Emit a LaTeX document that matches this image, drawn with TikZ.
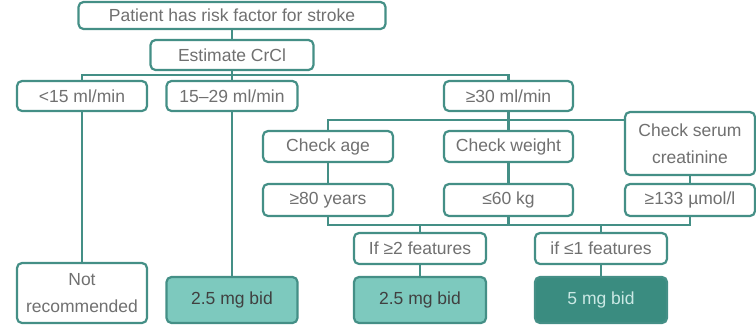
\documentclass[tikz,border=0pt]{standalone}
\usepackage{fontspec}
\setmainfont{Liberation Sans}
\usetikzlibrary{positioning, calc}

\definecolor{tealline}{HTML}{448F86}
\definecolor{teallight}{HTML}{7DC9BE}
\definecolor{tealdark}{HTML}{3A8C80}
\definecolor{txtgray}{HTML}{707070}

\begin{document}
\begin{tikzpicture}[x=1pt, y=-1pt,
    box/.style={draw=tealline, line width=2.2pt, rounded corners=5pt, fill=white,
                text=txtgray, inner sep=0pt, align=center,
                font=\fontsize{17.5}{27}\selectfont},
    link/.style={draw=tealline, line width=2.2pt},
    dose/.style={box, fill=teallight, text=black!75},
    dosehi/.style={box, fill=tealdark, text=teallight!40}]
  \useasboundingbox (0,0) rectangle (756,325);

  % Top of the tree
  \node[box, minimum width=307pt, minimum height=27pt] (risk) at (232,15.5) {Patient has risk factor for stroke};
  \node[box, minimum width=163pt, minimum height=30pt] (crcl) at (232,55) {Estimate CrCl};

  % CrCl bands
  \node[box, minimum width=130pt, minimum height=30pt] (lt15) at (82,96) {<15 ml/min};
  \node[box, minimum width=131pt, minimum height=30pt] (mid) at (232,96) {15--29 ml/min};
  \node[box, minimum width=129pt, minimum height=30pt] (ge30) at (508.5,96) {≥30 ml/min};

  % Checks
  \node[box, minimum width=130pt, minimum height=31pt] (age) at (328,146.5) {Check age};
  \node[box, minimum width=129pt, minimum height=31pt] (weight) at (508.5,146.5) {Check weight};
  \node[box, minimum width=130pt, minimum height=63pt] (serum) at (690,143.5) {Check serum\\creatinine};

  % Features
  \node[box, minimum width=130pt, minimum height=32pt] (ge80) at (328,200) {≥80 years};
  \node[box, minimum width=129pt, minimum height=32pt] (le60) at (508.5,200) {≤60 kg};
  \node[box, minimum width=130pt, minimum height=32pt] (ge133) at (690,200) {≥133 µmol/l};

  \node[box, minimum width=132pt, minimum height=31pt] (if2) at (420,248.5) {If ≥2 features};
  \node[box, minimum width=132pt, minimum height=31pt] (if1) at (601,248.5) {if ≤1 features};

  % Outcomes
  \node[box, minimum width=130pt, minimum height=60pt] (notrec) at (82,293) {Not\\recommended};
  \node[dose, minimum width=131pt, minimum height=46pt] (dose1) at (232,300) {2.5 mg bid};
  \node[dose, minimum width=132pt, minimum height=46pt] (dose2) at (420,300) {2.5 mg bid};
  \node[dosehi, minimum width=132pt, minimum height=46pt] (dose3) at (601,300) {5 mg bid};

  % Buses
  \coordinate (bus1) at (0,75);
  \coordinate (bus2) at (0,120);
  \coordinate (bus3) at (0,225);

  \draw[link] (risk) -- (crcl);
  \draw[link] (crcl) -- (mid);
  \draw[link] (lt15.north) |- (bus1 -| ge30) -- (ge30.north);
  \draw[link] (lt15) -- (notrec);
  \draw[link] (mid) -- (dose1);

  \draw[link] (age.north) |- (bus2 -| serum.west);
  \draw[link] (ge30) -- (weight);
  \draw[link] (age) -- (ge80);
  \draw[link] (weight) -- (le60);
  \draw[link] (serum) -- (ge133);

  \draw[link] (ge80.south) |- (bus3 -| ge133) -- (ge133.south);
  \draw[link] (le60.south) -- (le60.south |- bus3);
  \draw[link] (if2.north) -- (if2.north |- bus3);
  \draw[link] (if1.north) -- (if1.north |- bus3);
  \draw[link] (if2) -- (dose2);
  \draw[link] (if1) -- (dose3);
\end{tikzpicture}
\end{document}
